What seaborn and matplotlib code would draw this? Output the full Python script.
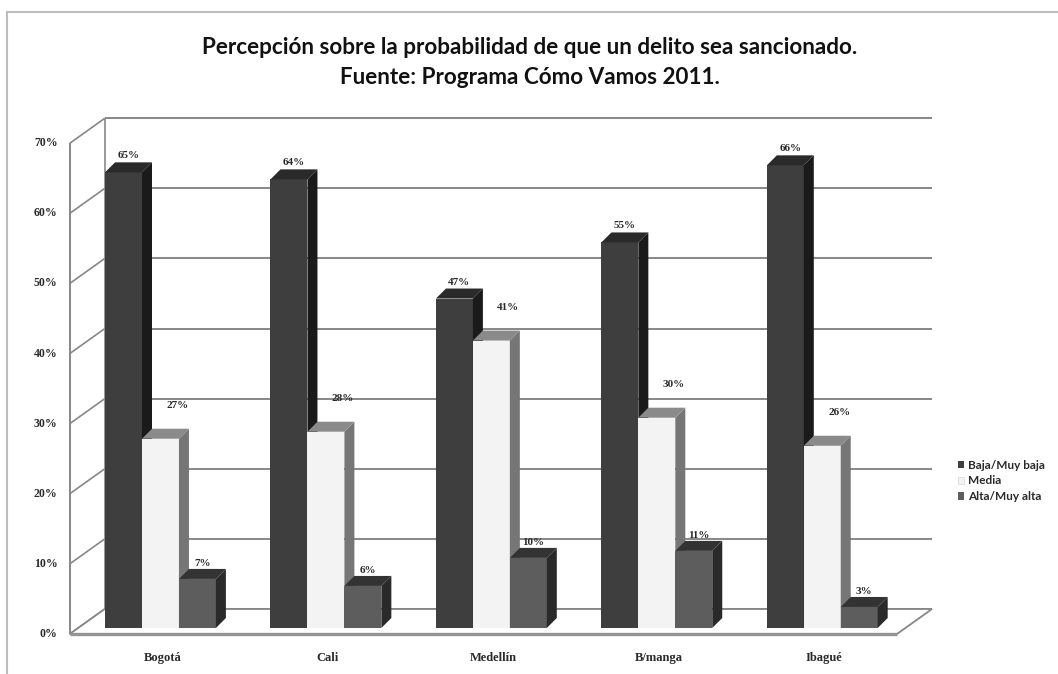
import numpy as np
import pandas as pd
import matplotlib
matplotlib.use("Agg")
import matplotlib.pyplot as plt
from matplotlib.patches import Polygon, Rectangle, Patch
import seaborn as sns

# ---- data ---------------------------------------------------------------
cities = ["Bogotá", "Cali", "Medellín", "B/manga", "Ibagué"]
series = ["Baja/Muy baja", "Media", "Alta/Muy alta"]
baja = [65, 64, 47, 55, 66]
media = [27, 28, 41, 30, 26]
alta = [7, 6, 10, 11, 3]
y_ticks = [0, 10, 20, 30, 40, 50, 60, 70]
title_lines = [
    "Percepción sobre la probabilidad de que un delito sea sancionado.",
    "Fuente: Programa Cómo Vamos 2011.",
]

df = pd.DataFrame({
    "ciudad": cities * 3,
    "nivel": np.repeat(series, len(cities)),
    "valor": baja + media + alta,
})

# ---- styling --------------------------------------------------------------
front_col = {"Baja/Muy baja": "#3e3e3e", "Media": "#f3f3f3", "Alta/Muy alta": "#5d5d5d"}
side_col = {"Baja/Muy baja": "#1a1a1a", "Media": "#767676", "Alta/Muy alta": "#2a2a2a"}
top_col = {"Baja/Muy baja": "#2a2a2a", "Media": "#8a8a8a", "Alta/Muy alta": "#333333"}
label_shift = {"Baja/Muy baja": (0, 2), "Media": (12, 19), "Alta/Muy alta": (0, 1)}

W, H, DPI = 1058, 674, 100
sns.set_theme(style="white")
serif = ["Liberation Serif", "DejaVu Serif"]
sans = ["Lato", "DejaVu Sans"]

fig = plt.figure(figsize=(W / DPI, H / DPI), dpi=DPI)
fig.patch.set_facecolor("white")

# plane holding the front faces of the bars (pixels measured from the top-left)
px_left, px_right, px_base, px_top = 77.75, 905.0, 628.0, 137.3
ax = fig.add_axes([px_left / W, 1 - px_base / H,
                   (px_right - px_left) / W, (px_base - px_top) / H])

sns.barplot(data=df, x="ciudad", y="valor", hue="nivel", order=cities,
            hue_order=series, palette=front_col, width=0.67, saturation=1,
            edgecolor="none", linewidth=0, legend=False, ax=ax)
ax.set_xlim(-0.5, len(cities) - 0.5)
ax.set_ylim(0, 70)
ax.axis("off")

to_px = ax.transData.transform
inv = ax.transData.inverted()


def poly(points, **kw):
    pts = inv.transform(np.asarray(points, dtype=float))
    ax.add_patch(Polygon(pts, closed=True, clip_on=False, **kw))


def line(points, **kw):
    pts = inv.transform(np.asarray(points, dtype=float))
    ax.plot(pts[:, 0], pts[:, 1], clip_on=False, solid_capstyle="butt", **kw)


# depth offsets in display pixels (up is positive)
DX, DY = 10, 10          # bar depth
BX, BY = 27, 19          # back wall relative to the bar plane
FX, FY = -8, -6          # front edge relative to the bar plane

XL = to_px((-0.5, 0))[0]
XR = to_px((len(cities) - 0.5, 0))[0]
Y0 = to_px((0, 0))[1]
grid_c = "#878787"
txt_c = "#2a2a2a"

# floor
poly([(XL + FX, Y0 + FY), (XR + FX, Y0 + FY), (XR + BX, Y0 + BY), (XL + BX, Y0 + BY)],
     facecolor="white", edgecolor=grid_c, linewidth=1.3, zorder=0.5)
line([(XL + FX, Y0 + FY), (XR + FX, Y0 + FY)], color="#949494", linewidth=2.4, zorder=0.6)

# back wall gridlines and left side wall
for v in y_ticks:
    yv = to_px((0, v))[1]
    line([(XL + BX, yv + BY), (XR + BX, yv + BY)], color=grid_c, linewidth=1.4, zorder=0.4)
    line([(XL + FX, yv + FY), (XL + BX, yv + BY)], color=grid_c, linewidth=1.2, zorder=0.4)
    ax.text(*inv.transform((XL + FX - 12, yv + FY)), f"{v}%", ha="right", va="center",
            fontsize=8.5, fontweight="bold", color=txt_c, family=serif, clip_on=False)
Ytop = to_px((0, 70))[1]
line([(XL + FX, Y0 + FY), (XL + FX, Ytop + FY)], color=grid_c, linewidth=1.4, zorder=0.4)
line([(XL + BX, Y0 + BY), (XL + BX, Ytop + BY)], color=grid_c, linewidth=1.2, zorder=0.4)

# 3-D faces for every bar, painted left to right
bars = []
for level, cont in zip(series, ax.containers):
    for rect in cont.patches:
        bars.append((rect.get_x(), rect, level))
bars.sort(key=lambda b: b[0])

for i, (_, rect, level) in enumerate(bars):
    z = 3 + i * 0.01
    rect.set_zorder(z)
    x0, x1 = rect.get_x(), rect.get_x() + rect.get_width()
    h = rect.get_height()
    X0, Yb = to_px((x0, 0))
    X1, Yt = to_px((x1, h))
    poly([(X1, Yb), (X1, Yt), (X1 + DX, Yt + DY), (X1 + DX, Yb + DY)],
         facecolor=side_col[level], edgecolor="none", zorder=z)
    poly([(X0, Yt), (X1, Yt), (X1 + DX, Yt + DY), (X0 + DX, Yt + DY)],
         facecolor=top_col[level], edgecolor="none", zorder=z)
    sx, sy = label_shift[level]
    ax.text(*inv.transform(((X0 + X1) / 2 + DX / 2 + sx, Yt + DY + sy)), f"{h:.0f}%",
            ha="center", va="bottom", fontsize=8, fontweight="bold", color=txt_c,
            family=serif, zorder=10, clip_on=False)

# category labels
for i, c in enumerate(cities):
    xc = to_px((i, 0))[0]
    ax.text(*inv.transform((xc + 2, Y0 + FY - 24)), c, ha="center", va="center",
            fontsize=9, fontweight="bold", color=txt_c, family=serif, clip_on=False)

# legend
handles = [Patch(facecolor=front_col[s], edgecolor="#d8d8d8" if s == "Media" else "none",
                 linewidth=0.5) for s in series]
leg = fig.legend(handles, series, loc="center left",
                 bbox_to_anchor=(953 / W, 1 - 481 / H), frameon=False,
                 fontsize=8.5, handlelength=0.55, handleheight=0.6,
                 handletextpad=0.3, labelspacing=0.4, borderaxespad=0)
for t in leg.get_texts():
    t.set_fontweight("bold")
    t.set_color(txt_c)
    t.set_family(sans)

# titles
for ln, ypx in zip(title_lines, [47, 77]):
    fig.text(530 / W, 1 - ypx / H, ln, ha="center", va="center",
             fontsize=16.2, fontweight="bold", color="#111111", family=sans)

# chart-area frame
fig.add_artist(Rectangle((7 / W, -0.02), 1.0, 1 - 12 / H + 0.02, transform=fig.transFigure,
                         fill=False, edgecolor="#bdbdbd", linewidth=1.5))

fig.savefig("out.png", dpi=DPI, facecolor="white")
